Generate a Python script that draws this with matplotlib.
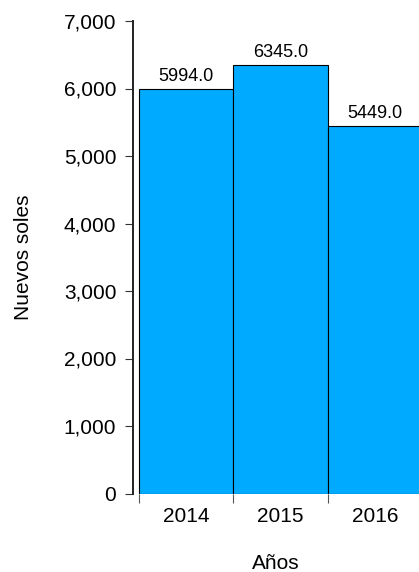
import matplotlib
matplotlib.use("Agg")
import matplotlib.pyplot as plt
from matplotlib.ticker import FuncFormatter

years = ["2014", "2015", "2016"]
values = [5994.0, 6345.0, 5449.0]

plt.rcParams["font.family"] = ["Liberation Sans", "DejaVu Sans"]

fig = plt.figure(figsize=(4.19, 5.72), dpi=100)
ax = fig.add_axes([133 / 419, 78.5 / 572, 286 / 419, 472.5 / 572])

pos = list(range(len(years)))
bars = ax.bar(pos, values, width=1.0, color="#00AAFF", edgecolor="black", linewidth=0.8)

for b, v in zip(bars, values):
    ax.annotate(f"{v:.1f}", (b.get_x() + b.get_width() / 2, v),
                xytext=(0, 3), textcoords="offset points",
                ha="center", va="bottom", fontsize=13)

ax.set_xlim(-0.5635, 2.463)
ax.set_ylim(0, 7000)
ax.set_yticks(range(0, 7001, 1000))
ax.yaxis.set_major_formatter(FuncFormatter(lambda x, _: f"{int(x):,}"))

# tick marks sit on the bar edges, labels at bar centres
ax.set_xticks([p - 0.5 for p in pos])
ax.set_xticklabels([])
ax.set_xticks(pos, minor=True)
ax.set_xticklabels(years, minor=True)
ax.tick_params(axis="x", which="major", length=6.5, width=0.8, color="#555555", direction="out")
ax.tick_params(axis="x", which="minor", length=0, pad=10, labelsize=15)
ax.tick_params(axis="y", length=6, width=0.8, color="#333333", pad=6, labelsize=15)

for s in ["top", "right", "bottom"]:
    ax.spines[s].set_visible(False)
ax.spines["left"].set_linewidth(1.4)
ax.spines["left"].set_color("#222222")

ax.set_xlabel("Años", fontsize=15, labelpad=20)
ax.set_ylabel("Nuevos soles", fontsize=15, labelpad=22)

fig.savefig("out.png", dpi=100)
